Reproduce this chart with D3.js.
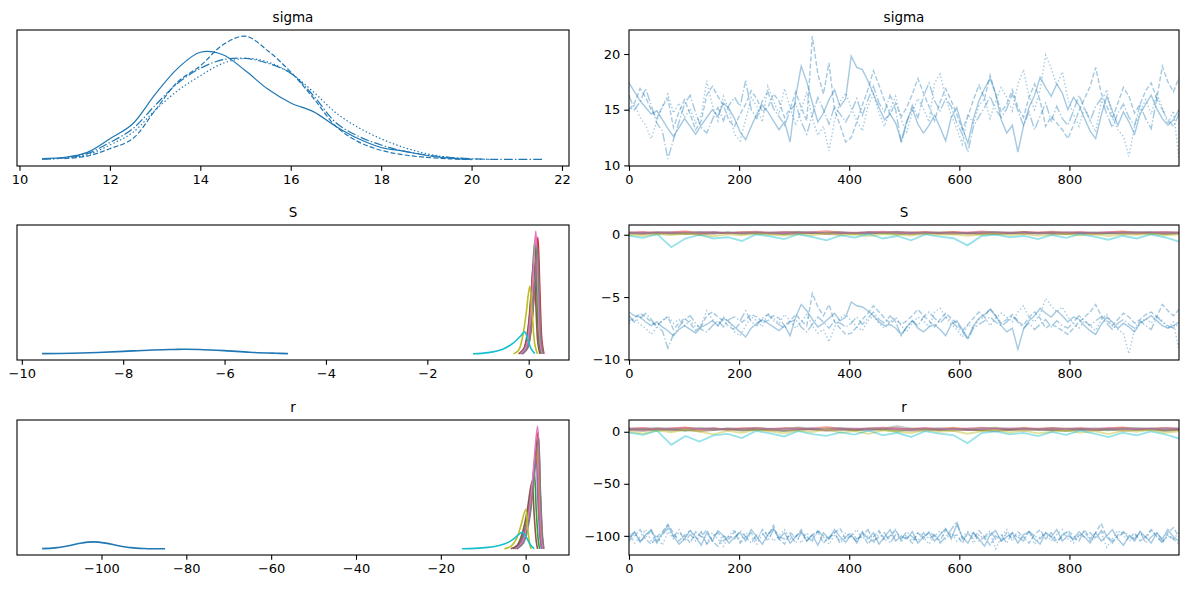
<!DOCTYPE html>
<html>
<head>
<meta charset="utf-8">
<script src="https://cdn.jsdelivr.net/npm/d3@7"></script>
<style>
  body { margin: 0; background: #fff; }
  text { font-family: "DejaVu Sans", sans-serif; fill: #000; }
</style>
</head>
<body>
<svg id="chart" width="1188" height="590"></svg>
<script>
// ---- data ----
const varNames = ["sigma", "S", "r"];
const tab10 = ["#1f77b4", "#ff7f0e", "#2ca02c", "#d62728", "#9467bd",
               "#8c564b", "#e377c2", "#7f7f7f", "#bcbd22", "#17becf"];

const sigmaKdeTicks = [10, 12, 14, 16, 18, 20, 22];
const sKdeTicks = [-10, -8, -6, -4, -2, 0];
const rKdeTicks = [-100, -80, -60, -40, -20, 0];
const drawTicks = [0, 200, 400, 600, 800];
const sigmaTraceTicks = [10, 15, 20];
const sTraceTicks = [-10, -5, 0];
const rTraceTicks = [-100, -50, 0];

// sigma density, one row per chain, on a shared grid
const sigmaGrid = [10.5, 11, 11.5, 12, 12.5, 13, 13.5, 14, 14.5, 15, 15.5, 16, 16.5, 17, 17.5, 18, 18.5, 19, 19.5, 20, 20.5, 21, 21.5, 21.6];
const sigmaDens = [
  [0.01, 0.02, 0.06, 0.17, 0.29, 0.53, 0.74, 0.87, 0.85, 0.72, 0.57, 0.46, 0.39, 0.27, 0.17, 0.10, 0.07, 0.035, 0.014, 0.004, null, null, null, null],
  [null, 0.01, 0.03, 0.09, 0.17, 0.40, 0.63, 0.76, 0.93, 1.0, 0.88, 0.71, 0.50, 0.27, 0.145, 0.077, 0.04, 0.02, 0.008, 0.002, null, null, null, null],
  [0.004, 0.015, 0.04, 0.12, 0.22, 0.40, 0.56, 0.68, 0.78, 0.82, 0.79, 0.70, 0.55, 0.38, 0.26, 0.17, 0.10, 0.05, 0.02, 0.008, 0.002, null, null, null],
  [0.005, 0.015, 0.05, 0.14, 0.25, 0.44, 0.62, 0.74, 0.81, 0.82, 0.78, 0.70, 0.52, 0.30, 0.19, 0.12, 0.07, 0.04, 0.02, 0.008, 0.004, 0.003, 0.003, 0.003]
];

// S density per component
const sDensX = [
  [-9.6, -9.0, -8.5, -8.0, -7.5, -7.0, -6.8, -6.5, -6.0, -5.5, -5.0, -4.75],
  [-0.15, -0.05, 0.03, 0.09, 0.15, 0.19, 0.23, 0.27],
  [-0.18, -0.08, 0.0, 0.06, 0.12, 0.16, 0.2, 0.24],
  [-0.12, -0.02, 0.06, 0.12, 0.18, 0.22, 0.26, 0.3],
  [-0.14, -0.04, 0.04, 0.1, 0.16, 0.2, 0.24, 0.28],
  [-0.2, -0.1, -0.02, 0.04, 0.1, 0.14, 0.18, 0.22],
  [-0.16, -0.06, 0.02, 0.08, 0.14, 0.18, 0.22, 0.26],
  [-0.13, -0.03, 0.05, 0.11, 0.17, 0.21, 0.25, 0.29],
  [-0.3, -0.2, -0.12, -0.05, 0.02, 0.07, 0.12, 0.17],
  [-1.1, -0.8, -0.5, -0.3, -0.15, -0.08, -0.02, 0.05, 0.12]
];
const sDensY = [
  [0.002, 0.005, 0.011, 0.02, 0.03, 0.036, 0.038, 0.036, 0.026, 0.013, 0.005, 0.002],
  [0, 0.04, 0.21, 0.51, 0.85, 0.47, 0.1, 0],
  [0, 0.05, 0.23, 0.55, 0.92, 0.5, 0.11, 0],
  [0, 0.05, 0.24, 0.57, 0.95, 0.52, 0.11, 0],
  [0, 0.04, 0.2, 0.48, 0.8, 0.44, 0.1, 0],
  [0, 0.04, 0.19, 0.45, 0.75, 0.41, 0.09, 0],
  [0, 0.05, 0.25, 0.6, 1.0, 0.55, 0.12, 0],
  [0, 0.04, 0.22, 0.53, 0.88, 0.48, 0.1, 0],
  [0, 0.03, 0.14, 0.33, 0.55, 0.32, 0.08, 0],
  [0.001, 0.01, 0.04, 0.09, 0.15, 0.18, 0.12, 0.04, 0.002]
];

// r density per component
const rDensX = [
  [-114, -111, -108, -105, -102, -99, -96, -93, -90, -88, -85],
  [-2.4, -0.9, 0.4, 1.4, 2.6, 3.1, 3.6, 3.9],
  [-3, -1.5, -0.2, 0.8, 2.0, 2.5, 3.0, 3.3],
  [-2.1, -0.6, 0.7, 1.7, 2.9, 3.4, 3.9, 4.2],
  [-2.6, -1.1, 0.2, 1.2, 2.4, 2.9, 3.4, 3.7],
  [-3.5, -2, -0.7, 0.3, 1.5, 2, 2.5, 2.8],
  [-2.2, -0.7, 0.6, 1.6, 2.8, 3.3, 3.8, 4.1],
  [-2, -0.5, 0.8, 1.8, 3.0, 3.5, 4.0, 4.3],
  [-5, -3.5, -2.2, -1.2, 0, 0.5, 1, 1.3],
  [-15, -12, -9, -6, -4, -2.5, -0.8, 0.2, 1.2, 2]
];
const rDensY = [
  [0.002, 0.008, 0.024, 0.046, 0.057, 0.047, 0.026, 0.01, 0.003, 0.001, 0.001],
  [0, 0.05, 0.21, 0.47, 0.85, 0.43, 0.09, 0],
  [0, 0.04, 0.16, 0.34, 0.62, 0.31, 0.06, 0],
  [0, 0.06, 0.24, 0.52, 0.95, 0.48, 0.1, 0],
  [0, 0.05, 0.19, 0.41, 0.75, 0.38, 0.08, 0],
  [0, 0.03, 0.14, 0.3, 0.55, 0.28, 0.06, 0],
  [0, 0.06, 0.25, 0.55, 1.0, 0.5, 0.1, 0],
  [0, 0.05, 0.22, 0.5, 0.9, 0.45, 0.09, 0],
  [0, 0.02, 0.08, 0.18, 0.32, 0.16, 0.03, 0],
  [0.001, 0.004, 0.012, 0.03, 0.055, 0.09, 0.135, 0.09, 0.03, 0.002]
];

// sigma draws (every ~10th draw), four chains
const sigmaTrace = [
  [17.4, 16.6, 15.8, 15.2, 14.6, 14.9, 14.1, 13.3, 12.6, 13.4,
   14.2, 13.5, 12.8, 13.6, 14.3, 15.0, 14.4, 15.6, 15.1, 14.2,
   13.0, 12.3, 13.5, 14.6, 15.4, 14.8, 14.0, 13.2, 13.9, 12.1,
   16.2, 18.9, 17.5, 15.6, 13.9, 14.7, 15.9, 16.8, 15.3, 16.0,
   19.8, 18.8, 18.6, 17.6, 16.4, 15.2, 14.1, 14.6, 13.8, 12.2,
   14.0, 15.1, 13.7, 12.9, 13.6, 14.5, 13.4, 12.2, 14.3, 15.2,
   13.4, 12.0, 14.2, 15.8, 16.9, 17.8, 16.4, 14.1, 12.9, 13.6,
   11.2, 13.5, 15.2, 16.3, 17.9, 17.0, 16.2, 17.3, 16.5, 15.0,
   16.1, 15.4, 14.2, 13.1, 12.4, 14.5, 16.2, 14.9, 13.6, 14.8,
   13.9, 12.8, 14.6, 15.5, 16.3, 15.1, 14.2, 13.6, 14.1, 15.0],
  [15.0, 15.6, 16.9, 16.1, 15.0, 14.2, 15.3, 16.0, 13.4, 14.8,
   15.9, 14.6, 13.2, 14.0, 16.3, 17.1, 16.2, 15.4, 14.0, 13.5,
   14.6, 15.5, 16.7, 16.0, 14.8, 15.2, 16.4, 15.8, 14.3, 15.1,
   16.6, 15.2, 14.0, 21.6, 18.2, 16.4, 19.2, 15.0, 13.6, 12.1,
   12.5, 13.9, 15.4, 16.8, 18.5, 17.2, 15.8, 14.6, 15.6, 14.4,
   15.2, 16.4, 17.8, 16.5, 15.3, 14.0, 15.7, 16.9, 15.8, 14.6,
   13.2, 14.4, 15.9, 17.2, 16.0, 18.1, 16.4, 14.8, 15.5, 16.8,
   15.2, 14.3, 16.1, 17.3, 15.8, 13.5, 14.4, 13.8, 13.2, 12.4,
   13.6, 14.9, 16.0, 17.1, 18.8, 16.5, 15.3, 14.2, 15.6, 17.0,
   16.2, 14.7, 15.5, 16.7, 17.4, 16.0, 18.9, 17.5, 16.6, 17.9],
  [14.8, 15.4, 14.3, 13.6, 12.4, 14.0, 15.2, 16.4, 14.7, 15.6,
   14.3, 15.1, 13.8, 14.5, 17.6, 15.4, 14.0, 16.2, 15.0, 12.8,
   12.2, 14.1, 16.1, 15.3, 13.9, 17.1, 15.8, 14.6, 16.9, 15.2,
   13.6, 15.0, 16.6, 14.2, 12.7, 13.5, 11.3, 14.0, 15.7, 16.5,
   15.2, 14.0, 13.1, 15.3, 16.4, 14.7, 13.5, 15.0, 16.2, 14.1,
   13.0, 14.8, 16.0, 15.1, 13.9, 17.4, 18.2, 16.1, 14.5, 13.3,
   11.9, 14.6, 13.8, 15.4, 16.0, 14.2, 15.8, 17.0, 16.1, 14.9,
   17.3, 18.6, 16.2, 15.0, 16.8, 19.9, 18.7, 17.2, 18.4, 16.0,
   14.6, 13.5, 15.2, 14.1, 13.0, 15.7, 16.8, 14.3, 13.2, 12.6,
   10.8, 13.5, 14.8, 15.9, 14.6, 16.4, 15.2, 13.7, 14.9, 10.5],
  [16.3, 15.0, 15.7, 16.9, 15.4, 13.8, 13.1, 10.6, 12.3, 13.9,
   15.5, 16.3, 14.7, 13.4, 12.9, 14.1, 15.2, 14.0, 15.4, 16.1,
   15.3, 17.6, 15.0, 14.2, 15.8, 16.6, 15.1, 14.4, 13.6, 14.9,
   15.6, 13.9, 12.8, 14.5, 16.1, 15.0, 13.7, 15.3, 14.6, 13.9,
   14.8, 16.0, 14.5, 15.9, 17.1, 15.6, 14.8, 16.3, 15.0, 12.0,
   13.8, 15.4, 14.3, 16.2, 17.4, 15.8, 14.9, 16.0, 15.3, 13.8,
   12.8, 11.2, 13.5, 14.4, 15.2, 16.2, 15.0, 14.3, 15.1, 16.4,
   14.9, 13.6, 14.8, 13.2, 14.4, 15.6, 14.0, 15.3, 14.2, 13.6,
   14.9, 16.3, 15.1, 14.0, 15.3, 16.0, 14.6, 13.4, 14.7, 15.5,
   14.3, 13.6, 15.4, 14.2, 13.3, 16.0, 15.0, 14.1, 13.5, 14.6]
];

// S[0] draws, four chains
const s0Trace = [
  [-6.2, -6.5, -6.6, -7.0, -7.3, -7.0, -7.4, -7.7, -8.1, -7.6,
   -7.3, -7.6, -7.9, -7.4, -7.2, -6.9, -7.3, -6.7, -7.0, -7.4,
   -7.8, -8.2, -7.5, -7.1, -6.8, -7.1, -7.4, -7.7, -7.3, -8.1,
   -6.6, -5.6, -6.1, -6.8, -7.4, -7.1, -6.7, -6.3, -6.9, -6.6,
   -5.4, -5.7, -5.8, -6.1, -6.5, -7.0, -7.3, -7.2, -7.5, -8.0,
   -7.4, -6.9, -7.5, -7.8, -7.4, -7.2, -7.6, -8.1, -7.2, -6.9,
   -7.6, -8.3, -7.3, -6.7, -6.4, -6.0, -6.5, -7.3, -7.8, -7.5,
   -9.2, -7.6, -6.9, -6.5, -5.9, -6.3, -6.6, -6.1, -6.5, -7.0,
   -6.6, -6.8, -7.3, -7.7, -8.0, -7.2, -6.6, -7.0, -7.5, -7.1,
   -7.4, -7.8, -7.1, -6.8, -6.5, -6.9, -7.3, -7.5, -7.3, -7.0],
  [-6.9, -6.7, -6.3, -6.6, -7.0, -7.3, -6.9, -6.6, -7.6, -7.1,
   -6.7, -7.1, -7.7, -7.3, -6.5, -6.2, -6.6, -6.9, -7.4, -7.6,
   -7.1, -6.8, -6.4, -6.6, -7.0, -6.9, -6.5, -6.7, -7.3, -6.9,
   -6.4, -6.9, -7.3, -4.7, -5.8, -6.5, -5.6, -7.0, -7.5, -8.0,
   -7.9, -7.4, -6.8, -6.3, -5.7, -6.2, -6.7, -7.1, -6.8, -7.2,
   -6.9, -6.5, -6.0, -6.5, -6.9, -7.4, -6.8, -6.3, -6.7, -7.1,
   -7.7, -7.2, -6.7, -6.2, -6.6, -5.9, -6.5, -7.1, -6.8, -6.4,
   -6.9, -7.3, -6.6, -6.2, -6.7, -7.5, -7.2, -7.4, -7.7, -8.0,
   -7.5, -7.0, -6.6, -6.2, -5.6, -6.5, -6.9, -7.3, -6.8, -6.3,
   -6.6, -7.1, -6.8, -6.4, -6.2, -6.6, -5.6, -6.1, -6.5, -6.0],
  [-7.1, -6.8, -7.2, -7.5, -8.0, -7.4, -6.9, -6.5, -7.1, -6.8,
   -7.3, -6.9, -7.4, -7.2, -6.1, -6.8, -7.3, -6.6, -7.0, -7.8,
   -8.1, -7.3, -6.6, -6.9, -7.4, -6.3, -6.7, -7.1, -6.4, -6.9,
   -7.5, -7.0, -6.4, -7.3, -7.9, -7.6, -8.6, -7.4, -6.7, -6.4,
   -6.9, -7.4, -7.7, -6.9, -6.5, -7.1, -7.5, -7.0, -6.6, -7.3,
   -7.8, -7.1, -6.6, -6.9, -7.4, -6.2, -5.9, -6.6, -7.2, -7.6,
   -8.2, -7.2, -7.5, -6.8, -6.6, -7.3, -6.7, -6.3, -6.6, -7.0,
   -6.2, -5.7, -6.6, -7.0, -6.4, -5.1, -5.7, -6.2, -5.8, -6.6,
   -7.1, -7.5, -6.9, -7.3, -7.7, -6.8, -6.4, -7.3, -7.6, -7.9,
   -9.56, -7.6, -7.1, -6.7, -7.1, -6.5, -6.9, -7.5, -7.0, -9.3],
  [-6.5, -7.0, -6.7, -6.3, -6.8, -7.4, -7.7, -9.1, -8.0, -7.4,
   -6.8, -6.5, -7.1, -7.6, -7.8, -7.3, -6.9, -7.4, -6.8, -6.6,
   -6.9, -6.1, -7.0, -7.3, -6.7, -6.4, -6.9, -7.2, -7.5, -7.0,
   -6.8, -7.4, -7.8, -7.2, -6.6, -7.0, -7.5, -6.9, -7.1, -7.4,
   -7.1, -6.6, -7.2, -6.7, -6.2, -6.8, -7.1, -6.5, -7.0, -8.1,
   -7.4, -6.9, -7.3, -6.6, -6.2, -6.7, -7.1, -6.6, -6.9, -7.4,
   -7.8, -8.4, -7.5, -7.2, -6.9, -6.6, -7.0, -7.3, -7.0, -6.5,
   -7.0, -7.5, -7.1, -7.6, -7.2, -6.8, -7.4, -6.9, -7.3, -7.5,
   -7.0, -6.5, -6.9, -7.3, -6.9, -6.6, -7.1, -7.6, -7.1, -6.8,
   -7.2, -7.5, -6.9, -7.3, -7.6, -6.6, -7.0, -7.3, -7.5, -7.1]
];

// S[1..9] draws (every ~25th draw), one line per component
const sBandTrace = [
  [.15, .10, .19, .13, .21, .08, .16, .12, .20, .14, .09, .17, .22, .11, .15, .19, .07, .16, .13, .20, .10, .18, .14, .23, .12, .09, .17, .15, .21, .11, .16, .13, .19, .08, .15, .20, .12, .17, .10, .14],
  [.12, .17, .08, .14, .05, .16, .11, .19, .09, .13, .15, .06, .12, .18, .10, .14, .08, .16, .11, .03, .13, .17, .09, .12, .15, .07, .14, .11, .18, .10, .13, .06, .15, .12, .09, .17, .11, .14, .08, .13],
  [.18, .23, .14, .20, .26, .16, .21, .12, .19, .24, .17, .22, .13, .20, .29, .18, .15, .21, .25, .16, .19, .23, .14, .20, .17, .26, .18, .13, .22, .19, .24, .16, .20, .15, .21, .27, .17, .19, .23, .18],
  [.16, .12, .20, .15, .09, .18, .22, .13, .17, .11, .19, .14, .21, .16, .10, .18, .13, .20, .15, .24, .12, .17, .14, .19, .11, .16, .21, .13, .18, .15, .09, .20, .16, .12, .19, .14, .17, .22, .13, .16],
  [.10, .05, .14, .08, .12, .02, .11, .16, .07, .13, .09, .04, .12, .15, .06, .10, .13, .08, .17, .11, .05, .09, .14, .07, .12, .10, .03, .13, .08, .15, .11, .06, .12, .09, .14, .07, .10, .13, .05, .11],
  [.14, .18, .11, .16, .20, .13, .09, .17, .15, .21, .12, .16, .14, .19, .10, .15, .18, .13, .22, .14, .11, .17, .15, .12, .19, .16, .13, .20, .14, .10, .17, .15, .18, .12, .21, .14, .16, .11, .18, .15],
  [.17, .13, .21, .18, .15, .23, .12, .19, .16, .20, .14, .18, .24, .15, .17, .21, .13, .19, .16, .22, .18, .14, .20, .17, .12, .19, .23, .16, .18, .14, .21, .17, .15, .20, .13, .18, .22, .16, .19, .17],
  [.02, -.08, .06, -.03, .09, .00, -.12, .04, -.05, .08, .01, -.07, .05, -.02, .10, -.04, .03, -.10, .06, .00, -.06, .07, -.01, .04, -.09, .02, .08, -.03, .05, -.07, .01, .06, -.04, .03, -.11, .04, .00, .07, -.05, .02],
  [-.08, -.25, .05, -1.0, -.3, -.02, -.3, -.2, -.5, .02, -.12, -.35, .04, -.18, -.45, -.05, -.22, .06, -.3, -.1, -.45, .03, -.15, -.28, -.85, -.1, .01, -.2, -.1, -.35, -.02, -.25, .05, -.15, -.4, -.08, -.3, .02, -.2, -.55]
];

// r[0] draws, four chains
const r0Trace = [
  [-101, -96, -106, -99, -94, -105, -98, -90, -100, -108,
   -103, -95, -101, -109, -97, -105, -95, -100, -107, -101,
   -97, -105, -94, -101, -108, -99, -93, -103, -97, -107,
   -101, -96, -105, -99, -109, -97, -103, -94, -101, -106,
   -99, -107, -96, -103, -97, -108, -101, -94, -105, -100,
   -103, -96, -107, -101, -97, -105, -99, -93, -103, -89,
   -101, -107, -97, -103, -110, -99, -95, -105, -101, -97,
   -107, -99, -96, -103, -108, -97, -101, -94, -105, -100,
   -103, -96, -101, -107, -97, -105, -100, -94, -103, -109,
   -100, -105, -96, -101, -107, -97, -103, -94, -101, -105],
  [-105, -100, -94, -103, -108, -101, -96, -89, -97, -105,
   -99, -107, -96, -101, -94, -105, -110, -100, -103, -96,
   -107, -101, -97, -105, -94, -100, -90, -103, -108, -97,
   -101, -94, -105, -99, -96, -107, -101, -97, -93, -103,
   -100, -105, -97, -108, -101, -95, -103, -100, -94, -105,
   -101, -107, -97, -103, -96, -100, -105, -94, -101, -99,
   -107, -97, -103, -95, -101, -109, -100, -105, -97, -103,
   -96, -101, -107, -99, -94, -103, -97, -105, -101, -95,
   -100, -105, -94, -103, -97, -88, -101, -107, -99, -96,
   -103, -97, -105, -101, -94, -100, -107, -97, -92, -101],
  [-97, -107, -101, -94, -105, -99, -109, -96, -103, -97,
   -101, -94, -105, -99, -107, -97, -103, -110, -100, -94,
   -105, -97, -101, -108, -99, -96, -105, -100, -94, -103,
   -99, -107, -97, -103, -95, -101, -108, -99, -105, -97,
   -101, -94, -103, -100, -107, -97, -105, -101, -95, -103,
   -99, -105, -97, -101, -108, -100, -95, -103, -97, -105,
   -101, -96, -107, -99, -103, -97, -112.5, -101, -94, -105,
   -99, -103, -96, -108, -101, -97, -105, -99, -94, -103,
   -107, -100, -96, -105, -101, -97, -111, -103, -95, -100,
   -105, -101, -97, -103, -94, -101, -107, -99, -103, -97],
  [-103, -97, -105, -101, -95, -107, -99, -93, -101, -94,
   -105, -99, -103, -96, -108, -101, -97, -105, -100, -103,
   -95, -101, -107, -99, -97, -105, -94, -101, -103, -99,
   -107, -97, -101, -105, -95, -100, -103, -97, -107, -101,
   -97, -103, -100, -94, -105, -101, -97, -107, -99, -103,
   -96, -101, -105, -97, -103, -99, -107, -101, -94, -86,
   -103, -99, -97, -105, -101, -95, -103, -99, -107, -97,
   -101, -105, -96, -100, -103, -97, -101, -107, -99, -96,
   -105, -99, -101, -97, -103, -95, -100, -105, -101, -97,
   -99, -103, -96, -107, -101, -97, -105, -100, -103, -108]
];

// r[1..9] draws (every ~25th draw), one line per component
const rBandTrace = [
  [2.6, 1.8, 3.3, 2.2, 3.6, 1.5, 2.9, 2.0, 3.4, 2.5, 1.6, 3.1, 3.8, 2.1, 2.7, 3.3, 1.3, 2.8, 2.3, 3.5, 1.9, 3.0, 2.4, 3.9, 2.1, 1.7, 3.2, 2.6, 3.6, 2.0, 2.8, 2.3, 3.4, 1.5, 2.7, 3.5, 2.2, 3.0, 1.8, 2.5],
  [2.0, 2.8, 1.2, 2.3, 0.8, 2.6, 1.7, 3.1, 1.4, 2.1, 2.5, 0.9, 2.0, 2.9, 1.5, 2.3, 1.1, 2.7, 1.8, 0.4, 2.2, 2.8, 1.4, 2.0, 2.5, 1.0, 2.4, 1.7, 3.0, 1.6, 2.1, 0.9, 2.5, 2.0, 1.3, 2.8, 1.8, 2.3, 1.2, 2.1],
  [2.9, 3.6, 2.3, 3.2, 4.1, 2.6, 3.4, 2.0, 3.0, 3.8, 2.7, 3.5, 2.2, 3.2, 4.4, 2.9, 2.4, 3.3, 3.9, 2.5, 3.0, 3.7, 2.3, 3.2, 2.7, 4.0, 2.9, 2.1, 3.5, 3.0, 3.8, 2.6, 3.2, 2.4, 3.4, 4.2, 2.7, 3.0, 3.6, 2.9],
  [2.4, 1.8, 3.0, 2.3, 1.4, 2.7, 3.3, 2.0, 2.6, 1.7, 2.9, 2.1, 3.2, 2.4, 1.5, 2.7, 2.0, 3.0, 2.3, 3.6, 1.8, 2.6, 2.1, 2.9, 1.6, 2.4, 3.1, 2.0, 2.7, 2.3, 1.4, 3.0, 2.4, 1.8, 2.9, 2.1, 2.6, 3.3, 2.0, 2.4],
  [1.5, 0.7, 2.2, 1.2, 1.9, 0.3, 1.7, 2.4, 1.0, 2.0, 1.4, 0.6, 1.8, 2.3, 0.9, 1.5, 2.0, 1.2, 2.6, 1.7, 0.8, 1.4, 2.1, 1.1, 1.8, 1.5, 0.4, 2.0, 1.2, 2.3, 1.7, 0.9, 1.8, 1.4, 2.1, 1.1, 1.5, 2.0, 0.8, 1.7],
  [2.8, 3.4, 2.3, 3.1, 3.7, 2.6, 2.0, 3.2, 2.9, 3.8, 2.4, 3.1, 2.7, 3.5, 2.1, 2.9, 3.4, 2.5, 3.9, 2.8, 2.3, 3.2, 2.9, 2.4, 3.5, 3.0, 2.6, 3.7, 2.8, 2.2, 3.2, 2.9, 3.4, 2.4, 3.8, 2.7, 3.0, 2.2, 3.4, 2.9],
  [3.0, 2.5, 3.6, 3.1, 2.7, 3.9, 2.3, 3.3, 2.8, 3.5, 2.6, 3.1, 4.1, 2.8, 3.0, 3.6, 2.4, 3.3, 2.9, 5.4, 3.1, 2.6, 3.4, 3.0, 2.3, 3.2, 3.9, 2.8, 3.1, 2.6, 3.5, 3.0, 2.7, 3.4, 2.4, 3.1, 3.8, 2.9, 3.3, 3.0],
  [0.2, -1.8, 1.3, -0.6, 2.0, 0.1, -2.5, 0.9, -1.1, 1.7, 0.3, -1.5, 1.1, -0.4, 2.2, -0.9, 0.6, -2.1, 1.4, 0.0, -1.3, 1.6, -0.2, 0.8, -1.9, 0.4, 1.8, -0.7, 1.0, -1.5, 0.2, 1.3, -0.9, 0.7, -2.3, 0.9, 0.1, 1.5, -1.1, 0.5],
  [-0.8, -3, 1, -12.5, -4, -9.5, -3.5, -2, -6, 0.8, -1.5, -4.5, 0.5, -2.2, -4, -0.6, -2.8, 1.2, -3.5, -1, -5, 0.6, -1.8, -3.2, -11, -1.2, 0.3, -2.5, -1, -4.2, -0.2, -3, 1, -1.8, -5.2, -0.8, -3.5, 0.4, -2.4, -6.5]
];

// ---- layout ----
const svg = d3.select("#chart");
const colX = [[17, 569], [629, 1179]];
const rowY = [[30, 166], [225, 360], [420, 555]];
const chainDash = [null, "5,2.2", "1.4,2.3", "8.8,2.2,1.4,2.2"];
const nDraws = 999;

function padded(lo, hi) {
  const m = (hi - lo) * 0.05;
  return [lo - m, hi + m];
}

function panel(row, col, title, id) {
  const [x0, x1] = colX[col];
  const [y0, y1] = rowY[row];
  const g = svg.append("g");
  g.append("clipPath").attr("id", id)
    .append("rect").attr("x", x0).attr("y", y0).attr("width", x1 - x0).attr("height", y1 - y0);
  g.append("text")
    .attr("x", (x0 + x1) / 2).attr("y", y0 - 8)
    .attr("text-anchor", "middle").style("font-size", "13.5px")
    .text(title);
  const plot = g.append("g").attr("clip-path", `url(#${id})`);
  return { g, plot, x0, x1, y0, y1 };
}

function finishAxes(p, x, xTicks, y, yTicks) {
  const ax = p.g.append("g").attr("transform", `translate(0,${p.y1})`)
    .call(d3.axisBottom(x).tickValues(xTicks).tickSize(4.8).tickPadding(4).tickSizeOuter(0));
  ax.select(".domain").remove();
  ax.selectAll("text").style("font-size", "13px").style("font-family", "DejaVu Sans");
  ax.selectAll("line").attr("stroke-width", 1.1);
  if (y) {
    const ay = p.g.append("g").attr("transform", `translate(${p.x0},0)`)
      .call(d3.axisLeft(y).tickValues(yTicks).tickSize(4.8).tickPadding(4).tickSizeOuter(0));
    ay.select(".domain").remove();
    ay.selectAll("text").style("font-size", "13px").style("font-family", "DejaVu Sans");
    ay.selectAll("line").attr("stroke-width", 1.1);
  }
  p.g.append("rect")
    .attr("x", p.x0).attr("y", p.y0).attr("width", p.x1 - p.x0).attr("height", p.y1 - p.y0)
    .attr("fill", "none").attr("stroke", "#000").attr("stroke-width", 1.1);
}

function kdePanel(row, title, curves, xTicks) {
  const p = panel(row, 0, title, "kclip" + row);
  const allX = curves.flatMap(c => c.pts.map(d => d[0]));
  const maxY = d3.max(curves.flatMap(c => c.pts.map(d => d[1])));
  const x = d3.scaleLinear().domain(padded(d3.min(allX), d3.max(allX))).range([p.x0, p.x1]);
  const y = d3.scaleLinear().domain(padded(0, maxY)).range([p.y1, p.y0]);
  const line = d3.line()
    .defined(d => d[1] != null)
    .x(d => x(d[0])).y(d => y(Math.max(0, d[1])))
    .curve(d3.curveCatmullRom.alpha(0.5));
  curves.forEach(c => {
    p.plot.append("path")
      .attr("d", line(c.pts))
      .attr("fill", "none")
      .attr("stroke", c.color)
      .attr("stroke-width", c.width)
      .attr("stroke-dasharray", c.dash);
  });
  finishAxes(p, x, xTicks, null, null);
}

function tracePanel(row, title, series, yTicks) {
  const p = panel(row, 1, title, "tclip" + row);
  const allV = series.flatMap(s => s.v);
  const x = d3.scaleLinear().domain([0, nDraws]).range([p.x0, p.x1]);
  const y = d3.scaleLinear().domain(padded(d3.min(allV), d3.max(allV))).range([p.y1, p.y0]);
  series.forEach(s => {
    const n = s.v.length;
    const line = d3.line().x((d, i) => x(i * nDraws / (n - 1))).y(d => y(d));
    p.plot.append("path")
      .attr("d", line(s.v))
      .attr("fill", "none")
      .attr("stroke", s.color)
      .attr("stroke-opacity", s.alpha)
      .attr("stroke-width", s.width)
      .attr("stroke-dasharray", s.dash);
  });
  finishAxes(p, x, drawTicks, y, yTicks);
}

// ---- sigma ----
kdePanel(0, varNames[0],
  sigmaDens.map((ys, c) => ({
    pts: sigmaGrid.map((g, i) => [g, ys[i]]),
    color: tab10[0], dash: chainDash[c], width: 1.2
  })), sigmaKdeTicks);

tracePanel(0, varNames[0],
  sigmaTrace.map((v, c) => ({ v, color: tab10[0], dash: chainDash[c], alpha: 0.4, width: 1.4 })),
  sigmaTraceTicks);

// ---- S ----
kdePanel(1, varNames[1],
  sDensX.map((xs, k) => ({
    pts: xs.map((xv, i) => [xv, sDensY[k][i]]),
    color: tab10[k], dash: null, width: 1.6
  })), sKdeTicks);

tracePanel(1, varNames[1],
  s0Trace.map((v, c) => ({ v, color: tab10[0], dash: chainDash[c], alpha: 0.4, width: 1.4 }))
    .concat(sBandTrace.map((v, k) => ({ v, color: tab10[k + 1], dash: null, alpha: 0.45, width: 1.8 }))),
  sTraceTicks);

// ---- r ----
kdePanel(2, varNames[2],
  rDensX.map((xs, k) => ({
    pts: xs.map((xv, i) => [xv, rDensY[k][i]]),
    color: tab10[k], dash: null, width: 1.6
  })), rKdeTicks);

tracePanel(2, varNames[2],
  r0Trace.map((v, c) => ({ v, color: tab10[0], dash: chainDash[c], alpha: 0.4, width: 1.4 }))
    .concat(rBandTrace.map((v, k) => ({ v, color: tab10[k + 1], dash: null, alpha: 0.45, width: 1.8 }))),
  rTraceTicks);
</script>
</body>
</html>
